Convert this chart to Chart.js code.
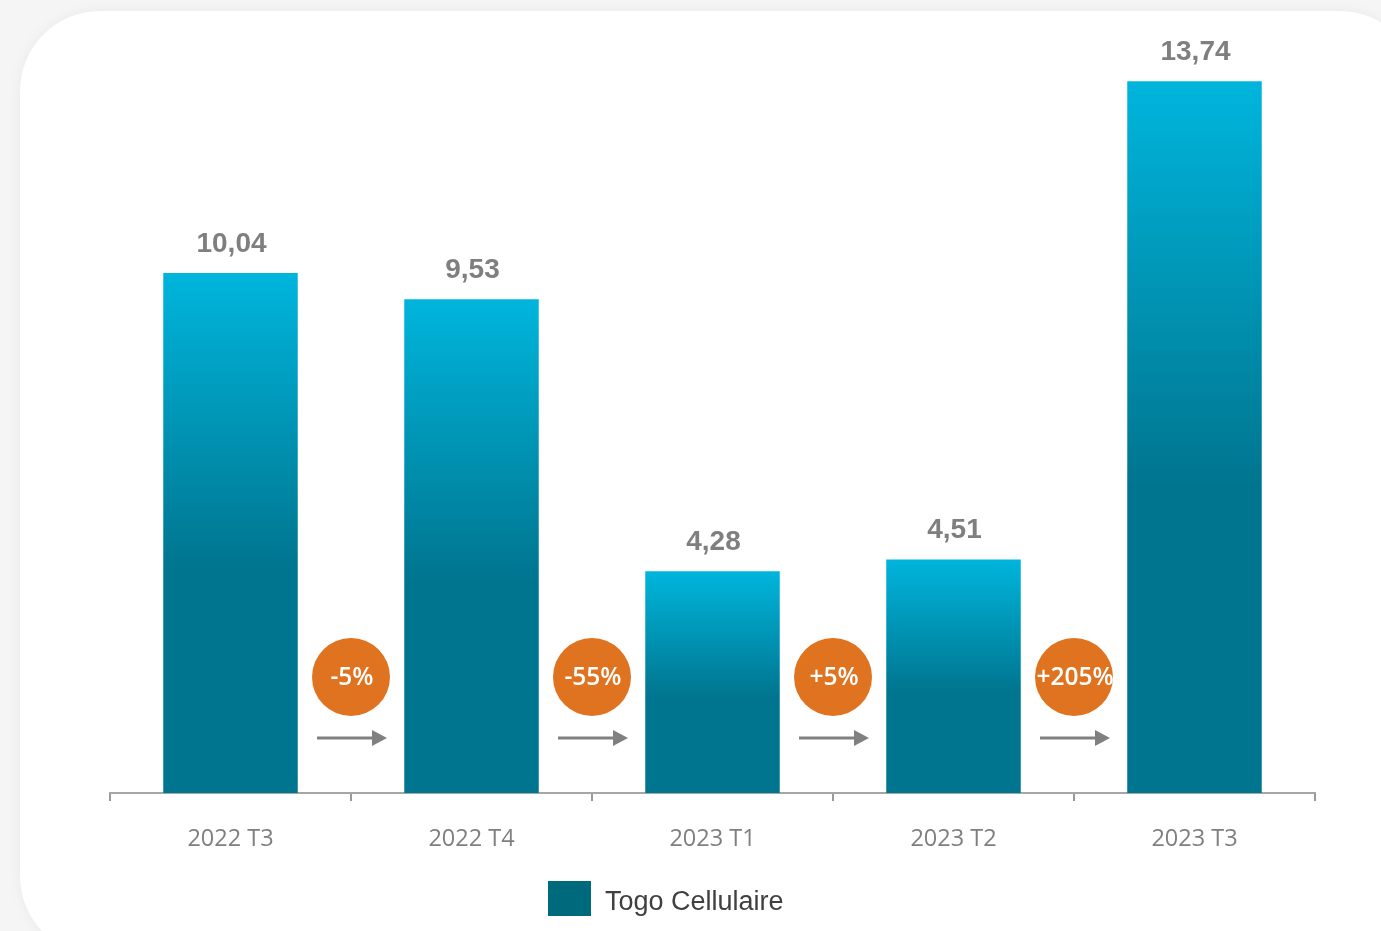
<!DOCTYPE html>
<html>
<head>
<meta charset="utf-8">
<script src="https://cdn.jsdelivr.net/npm/chart.js@4.4.1/dist/chart.umd.min.js"></script>
<style>
  html, body { margin:0; padding:0; width:1381px; height:931px; overflow:hidden; background:#f5f5f5; }
  #card { position:absolute; left:20px; top:11px; width:1400px; height:945px; background:#ffffff;
          border-radius:80px; box-shadow:0 0 14px rgba(0,0,0,0.05); }
  #wrap { position:absolute; left:0; top:0; width:1381px; height:931px; }
</style>
</head>
<body>
<div id="card"></div>
<div id="wrap"><canvas id="c" width="1381" height="931"></canvas></div>
<script>
const categories = ["2022 T3", "2022 T4", "2023 T1", "2023 T2", "2023 T3"];
const seriesName = "Togo Cellulaire";
const values = [10.04, 9.53, 4.28, 4.51, 13.74];
const valueLabels = ["10,04", "9,53", "4,28", "4,51", "13,74"];
const changes = ["-5%", "-55%", "+5%", "+205%"];

const TOP = "#00b5dc", BOTTOM = "#00758f", LEGEND = "#006a7d";

function barFill(ctx) {
  const chart = ctx.chart;
  if (!chart.chartArea || ctx.type !== "data") return BOTTOM;
  const y = chart.scales.y;
  const top = y.getPixelForValue(ctx.raw);
  const base = y.getPixelForValue(0);
  const g = chart.ctx.createLinearGradient(0, top, 0, base);
  g.addColorStop(0, TOP);
  g.addColorStop(0.57, BOTTOM);
  g.addColorStop(1, BOTTOM);
  return g;
}

const overlay = {
  id: "overlay",
  afterDatasetsDraw(chart) {
    const c = chart.ctx;
    const meta = chart.getDatasetMeta(0);
    const area = chart.chartArea;
    c.save();
    // value labels
    c.font = "bold 28px 'Liberation Sans', Arial, sans-serif";
    c.fillStyle = "#7f7f7f";
    c.textAlign = "center";
    c.textBaseline = "middle";
    meta.data.forEach((bar, i) => {
      c.fillText(valueLabels[i], bar.x + 1, bar.y - 29);
    });
    // change bubbles and arrows
    const xs = chart.scales.x;
    changes.forEach((txt, i) => {
      const cx = (xs.getPixelForValue(i) + xs.getPixelForValue(i + 1)) / 2;
      const cy = area.bottom - 116;
      c.beginPath();
      c.arc(cx, cy, 39, 0, Math.PI * 2);
      c.fillStyle = "#e07320";
      c.fill();
      c.fillStyle = "#ffffff";
      c.font = "600 24.5px 'Open Sans', sans-serif";
      c.textAlign = "center";
      c.textBaseline = "middle";
      c.fillText(txt, cx + 1, cy + 1);
      // arrow
      const ay = area.bottom - 55;
      const x0 = cx - 34, x1 = cx + 36;
      c.strokeStyle = "#808080";
      c.lineWidth = 3;
      c.beginPath();
      c.moveTo(x0, ay);
      c.lineTo(x1 - 12, ay);
      c.stroke();
      c.fillStyle = "#808080";
      c.beginPath();
      c.moveTo(x1 - 15, ay - 8);
      c.lineTo(x1, ay);
      c.lineTo(x1 - 15, ay + 8);
      c.closePath();
      c.fill();
    });
    // legend
    c.fillStyle = LEGEND;
    c.fillRect(548, 881, 43, 35);
    c.fillStyle = "#404040";
    c.font = "27px 'Liberation Sans', Arial, sans-serif";
    c.textAlign = "left";
    c.textBaseline = "middle";
    c.fillText(seriesName, 605, 903);
    c.restore();
  }
};

new Chart(document.getElementById("c"), {
  type: "bar",
  data: {
    labels: categories,
    datasets: [{
      label: seriesName,
      data: values,
      backgroundColor: barFill,
      borderWidth: 0,
      barPercentage: 0.558,
      categoryPercentage: 1
    }]
  },
  options: {
    responsive: false,
    animation: false,
    events: [],
    layout: { padding: { left: 110, right: 66, top: 16, bottom: 78 } },
    plugins: { legend: { display: false }, tooltip: { enabled: false } },
    scales: {
      y: { display: false, min: 0, max: 15 },
      x: {
        afterFit(scale) { scale.height = 60; },
        grid: { offset: true, drawOnChartArea: false, drawTicks: true, tickLength: 8, color: "#999999", lineWidth: 2 },
        border: { display: true, color: "#a6a6a6", width: 2 },
        ticks: { color: "#7f7f7f", font: { family: "'Open Sans', sans-serif", size: 23.5 }, padding: 24 }
      }
    }
  },
  plugins: [overlay]
});
</script>
</body>
</html>
